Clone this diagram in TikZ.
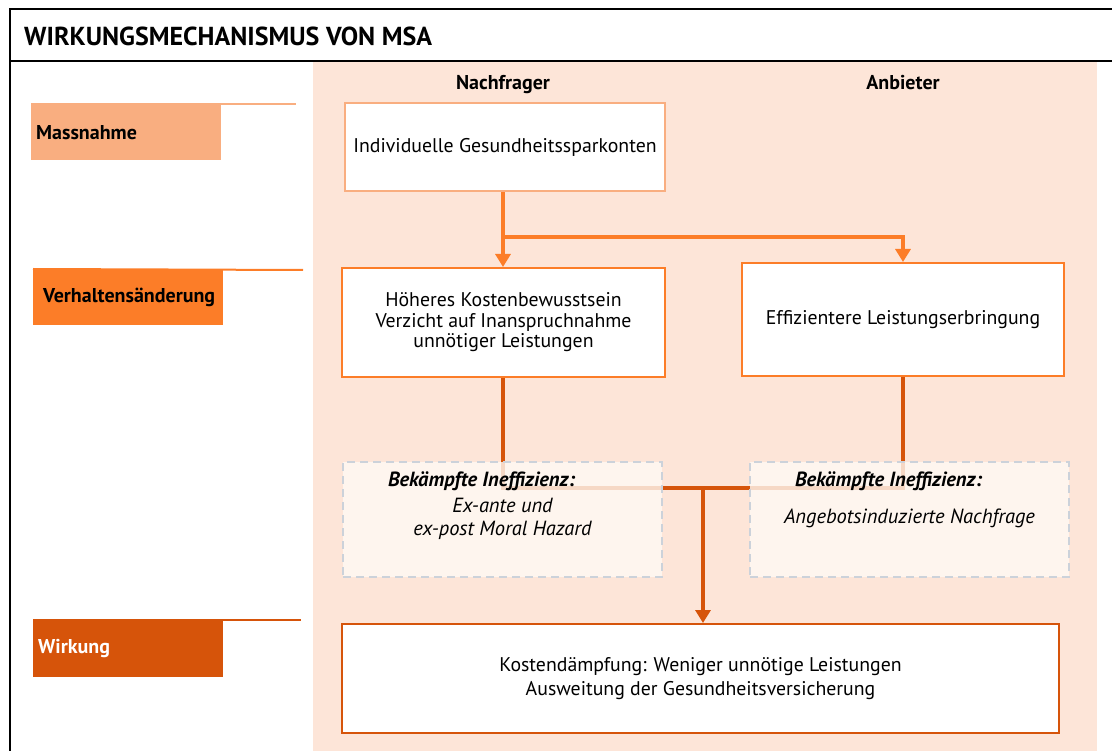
\documentclass[tikz,border=0pt]{standalone}
\usepackage{fontspec}
\setmainfont{PT Sans}
\usetikzlibrary{arrows.meta,positioning,calc}
\definecolor{msashade}{RGB}{253,229,216}
\definecolor{msalight}{RGB}{249,174,128}
\definecolor{msaorange}{RGB}{252,125,40}
\definecolor{msadark}{RGB}{214,84,10}
\definecolor{msagrey}{RGB}{204,210,218}
\definecolor{msapale}{RGB}{255,249,244}

\begin{document}
\begin{tikzpicture}[
    x=1pt, y=-1pt,
    font=\fontsize{19.8}{23}\selectfont,
    stage/.style={anchor=north west, inner xsep=5pt, text width=180pt,
                  minimum width=190pt, minimum height=56pt, align=left,
                  font=\fontsize{20}{23}\selectfont\bfseries},
    box/.style={draw, line width=2pt, fill=white, align=center, inner sep=0pt},
    ineff/.style={draw=msagrey, line width=2pt, dash pattern=on 8pt off 5pt,
                  fill=msapale, fill opacity=0.8, inner sep=0pt},
    itext/.style={align=center, inner sep=0pt, font=\fontsize{20.5}{23}\selectfont\itshape},
    colhead/.style={anchor=base, font=\fontsize{20}{23}\selectfont\bfseries},
    uarr/.style={-{Triangle[width=15pt,length=13pt]}, line width=3.5pt, msaorange},
    lline/.style={line width=3.5pt, msadark},
    larr/.style={lline, -{Triangle[width=15pt,length=13pt]}}
  ]
  \useasboundingbox (0,0) rectangle (1112,751);
  % frame and title
  \fill[msashade] (313,62) rectangle (1097,751);
  \draw[line width=2.5pt] (10,751) -- (10,9) -- (1112,9);
  \draw[line width=2.5pt] (10,61) -- (1112,61);
  \node[anchor=west, inner sep=0pt, font=\fontsize{26}{30}\selectfont\bfseries]
    (title) at (24,36) {WIRKUNGSMECHANISMUS VON MSA};

  % stages on the left
  \node[stage, fill=msalight] (s1) at (31,104) {Massnahme};
  \node[stage, fill=msaorange, inner xsep=9pt, text width=170pt] (s2) at (33,269) {Verhaltensänderung};
  \node[stage, fill=msadark, text=white, minimum height=57pt] (s3) at (33,620) {Wirkung};
  \draw[msalight, line width=2pt] (s1.north west) -- (296,104);
  \draw[msaorange, line width=2pt] (s2.north west) -- (303,270);
  \draw[msadark, line width=2pt] (s3.north west) -- (301,620);

  % columns
  \node[colhead] (nach) at (503,90) {Nachfrager};
  \node[colhead] (anb) at (903,90) {Anbieter};

  \node[box, draw=msalight, minimum width=320pt, minimum height=88pt]
    (konten) at (505,147) {Individuelle Gesundheitssparkonten};
  \node[box, draw=msaorange, minimum width=323pt, minimum height=109pt,
        font=\fontsize{19.8}{20.5}\selectfont]
    (kosten) at (503.5,322.5) {Höheres Kostenbewusstsein\\Verzicht auf Inanspruchnahme\\unnötiger Leistungen};
  \node[box, draw=msaorange, minimum width=322pt, minimum height=113pt]
    (leist) at (903,319.5) {Effizientere Leistungserbringung};
  \node[box, draw=msadark, minimum width=717pt, minimum height=109pt,
        font=\fontsize{19.8}{24}\selectfont]
    (daempf) at (700.5,678.5) {Kostendämpfung: Weniger unnötige Leistungen\\Ausweitung der Gesundheitsversicherung};

  % connectors
  \coordinate (split) at (503,237);
  \coordinate (join) at (703,488);
  \draw[uarr] (konten.south -| split) -- (kosten.north -| split);
  \draw[uarr] (split) -| (leist.north);
  \draw[lline] (kosten.south -| split) |- (leist.south |- join) -- (leist.south);
  \draw[larr] (join) -- (daempf.north -| join);

  % fought inefficiencies
  \node[ineff, minimum width=319pt, minimum height=115pt] (ia) at (502.5,519.5) {};
  \node[ineff, minimum width=319pt, minimum height=115pt] (ib) at (909.5,519.5) {};
  \node[itext, below=11pt of ia.north] (iat)
    {\textbf{Bekämpfte Ineffizienz:}\hspace*{42pt}\\[3pt]Ex-ante und\\ex-post Moral Hazard};
  \node[itext, below=11pt of ib.north] (ibt)
    {\textbf{Bekämpfte Ineffizienz:}\hspace*{42pt}\\[14pt]Angebotsinduzierte Nachfrage};
\end{tikzpicture}
\end{document}
